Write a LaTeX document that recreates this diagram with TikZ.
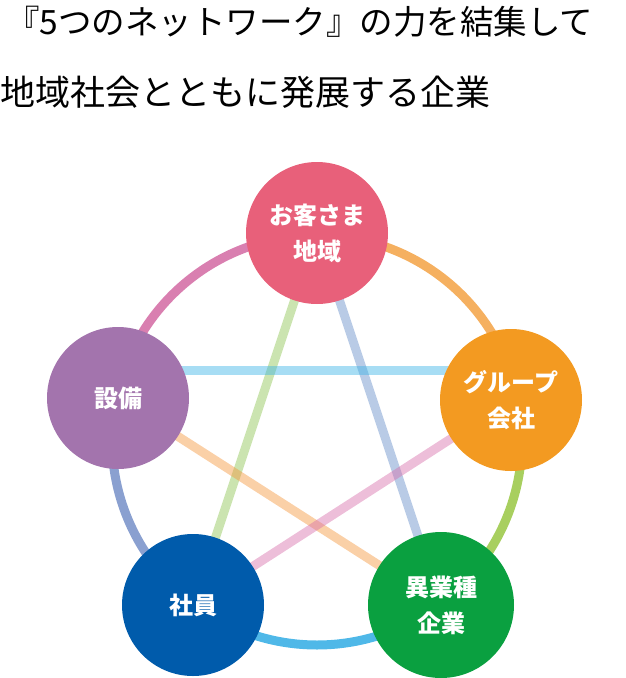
\documentclass[tikz,border=0pt]{standalone}
\usepackage{fontspec}
\newfontfamily\cjk{Noto Sans CJK JP}
\begin{document}
\begin{tikzpicture}[x=1pt,y=-1pt,
  ball/.style={circle,minimum size=142pt,inner sep=0pt,text=white,font=\cjk\bfseries\fontsize{24}{36}\selectfont,align=center},
  ring/.style={line width=9pt},
  star/.style={line width=9pt,opacity=0.45}]
\useasboundingbox (0,0) rectangle (625,678);
\definecolor{cA}{HTML}{E8607A}\definecolor{cB}{HTML}{F39A21}\definecolor{cC}{HTML}{0AA040}
\definecolor{cD}{HTML}{005BAB}\definecolor{cE}{HTML}{A374AD}
\node[font=\cjk\fontsize{33.5}{38}\selectfont,anchor=west,inner sep=0pt] (t1) at (6,22) {『5つのネットワーク』の力を結集して};
\node[font=\cjk\fontsize{35}{38}\selectfont,anchor=west,inner sep=0pt] (t2) at (0,92) {地域社会とともに発展する企業};
\coordinate (o) at (317,440);
% ring arcs (y axis flipped: negate angles)
\draw[ring,color={rgb,255:red,217;green,127;blue,176}] (o) ++(-162:205) arc[start angle=-162,end angle=-90,radius=205];
\draw[ring,color={rgb,255:red,245;green,176;blue,96}] (o) ++(-90:205) arc[start angle=-90,end angle=-18,radius=205];
\draw[ring,color={rgb,255:red,168;green,207;blue,95}] (o) ++(-18:205) arc[start angle=-18,end angle=54,radius=205];
\draw[ring,color={rgb,255:red,79;green,184;blue,232}] (o) ++(54:205) arc[start angle=54,end angle=126,radius=205];
\draw[ring,color={rgb,255:red,138;green,160;blue,208}] (o) ++(126:205) arc[start angle=126,end angle=198,radius=205];
\coordinate (pA) at (317,233); \coordinate (pB) at (511,400); \coordinate (pC) at (441,605);
\coordinate (pD) at (193,605); \coordinate (pE) at (118,398);
\coordinate (hl) at (150,370); \coordinate (hr) at (480,370);
% star lines
\draw[star,color={rgb,255:red,140;green,195;blue,80}] (pA) -- (pD);
\draw[star,color={rgb,255:red,100;green,140;blue,200}] (pA) -- (pC);
\draw[star,color={rgb,255:red,60;green,180;blue,230}] (hl) -- (hr);
\draw[star,color={rgb,255:red,245;green,150;blue,60}] (pE) -- (pC);
\draw[star,color={rgb,255:red,215;green,110;blue,170}] (pB) -- (pD);
\node[ball,fill=cA] (a) at (pA) {お客さま\\地域};
\node[ball,fill=cB] (b) at (pB) {グループ\\会社};
\node[ball,fill=cC,minimum size=146pt] (c) at (pC) {異業種\\企業};
\node[ball,fill=cD] (d) at (pD) {社員};
\node[ball,fill=cE] (e) at (pE) {設備};
\end{tikzpicture}
\end{document}
